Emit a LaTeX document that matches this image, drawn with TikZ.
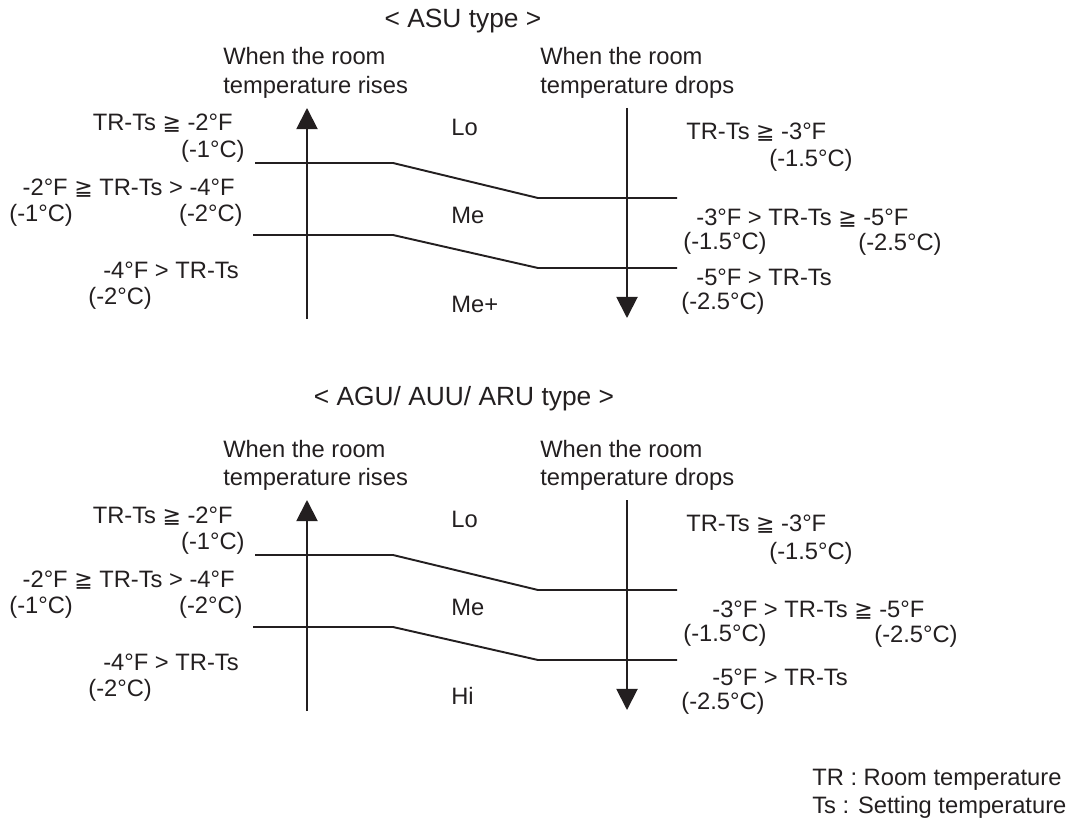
\documentclass[tikz,border=0pt]{standalone}
\usepackage{fontspec}
\setmainfont{Liberation Sans}
\newfontfamily\symfont{DejaVu Sans}
\usetikzlibrary{arrows.meta}
\definecolor{ink}{HTML}{231F20}
\newcommand{\gqq}{{\symfont\fontsize{12.5}{14}\selectfont ≧}}

\tikzset{
  lbl/.style={inner sep=0pt, text=ink, font=\fontsize{13.5}{16}\selectfont},
  ttl/.style={lbl, font=\fontsize{15}{17}\selectfont},
  stepline/.style={draw=ink, line width=1.1pt},
  axis/.style={draw=ink, line width=1.1pt, -{Triangle[width=12pt,length=12pt]}},
}

\begin{document}
\begin{tikzpicture}[x=0.02cm, y=-0.02cm]
    \useasboundingbox (0,0) rectangle (1072,821);

    % Titles
    \node[ttl, anchor=base] (tasu) at (463,28) {< ASU type >};
    \node[ttl, anchor=base] (tagu) at (464,405) {< AGU/ AUU/ ARU type >};

    \foreach \p/\dy/\lv/\sx/\sy in {a/0/Me+/0/0, b/392/Hi/16/8} {
        % Headings
        \node[lbl, anchor=base west] (ra\p) at (223,65+\dy) {When the room};
        \node[lbl, anchor=base west] (rb\p) at (223,93+\dy) {temperature rises};
        \node[lbl, anchor=base west] (da\p) at (540,65+\dy) {When the room};
        \node[lbl, anchor=base west] (db\p) at (540,93+\dy) {temperature drops};

        % Axes
        \coordinate (us\p) at (307,319+\dy);
        \coordinate (ue\p) at (307,108+\dy);
        \coordinate (ds\p) at (627,108+\dy);
        \coordinate (de\p) at (627,318+\dy);
        \draw[axis] (us\p) -- (ue\p);
        \draw[axis] (ds\p) -- (de\p);

        % Switching lines
        \draw[stepline] (255,163+\dy) -- (393,163+\dy) -- (538,198+\dy) -- (677,198+\dy);
        \draw[stepline] (253,235+\dy) -- (393,235+\dy) -- (538,268+\dy) -- (677,268+\dy);

        % Fan speed
        \node[lbl, anchor=base west] (lo\p) at (451,135+\dy) {Lo};
        \node[lbl, anchor=base west] (me\p) at (451,223+\dy) {Me};
        \node[lbl, anchor=base west] (hi\p) at (451,312+\dy) {\lv};

        % Rising side
        \node[lbl, anchor=base east] (r1\p) at (233,131+\dy) {TR-Ts \gqq{} -2°F};
        \node[lbl, anchor=base east] (r1c\p) at (245,157+\dy) {(-1°C)};
        \node[lbl, anchor=base east] (r2\p) at (235,195+\dy) {-2°F \gqq{} TR-Ts > -4°F};
        \node[lbl, anchor=base west] (r2c\p) at (9,221+\dy) {(-1°C)};
        \node[lbl, anchor=base east] (r2d\p) at (243,221+\dy) {(-2°C)};
        \node[lbl, anchor=base east] (r3\p) at (239,278+\dy) {-4°F > TR-Ts};
        \node[lbl, anchor=base west] (r3c\p) at (88,304+\dy) {(-2°C)};

        % Dropping side
        \node[lbl, anchor=base west] (d1\p) at (686,139+\dy) {TR-Ts \gqq{} -3°F};
        \node[lbl, anchor=base west] (d1c\p) at (769,167+\dy) {(-1.5°C)};
        \node[lbl, anchor=base west] (d2\p) at (696+\sx,225+\dy) {-3°F > TR-Ts \gqq{} -5°F};
        \node[lbl, anchor=base west] (d2c\p) at (683,249+\dy) {(-1.5°C)};
        \node[lbl, anchor=base west] (d2d\p) at (858+\sx,250+\dy) {(-2.5°C)};
        \node[lbl, anchor=base west] (d3\p) at (696+\sx,285+\dy+\sy) {-5°F > TR-Ts};
        \node[lbl, anchor=base west] (d3c\p) at (681,309+\dy+\sy) {(-2.5°C)};
    }

    % Legend
    \node[lbl, anchor=base west] (ftr) at (812,785) {TR : Room temperature};
    \node[lbl, anchor=base west] (fts) at (812,813) {Ts : Setting temperature};
\end{tikzpicture}
\end{document}
